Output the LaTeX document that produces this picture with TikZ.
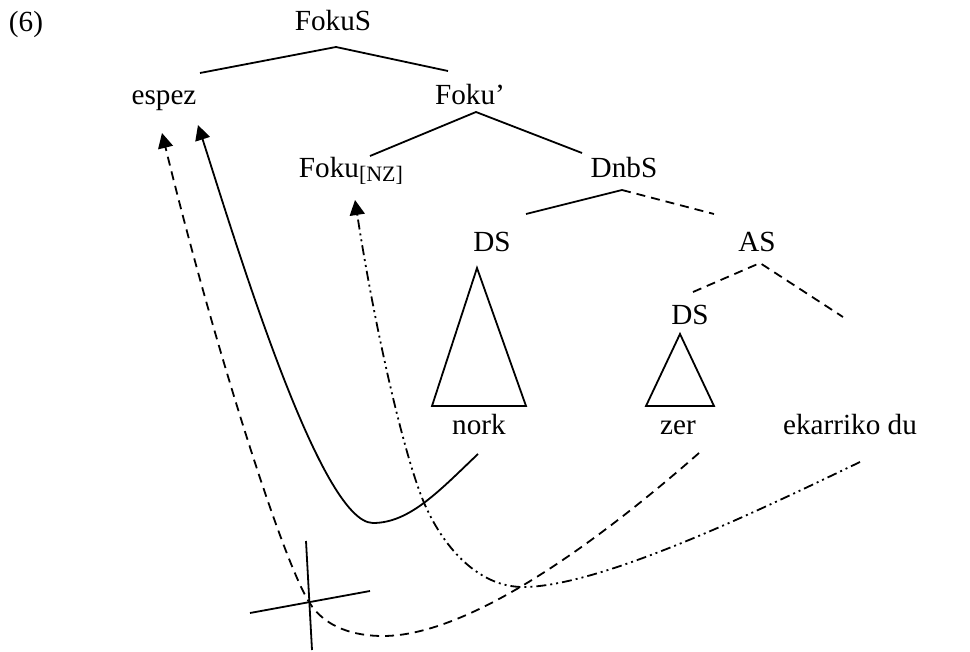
\documentclass[tikz,border=0pt]{standalone}
\usepackage{fontspec}
\setmainfont{Liberation Serif}
\usetikzlibrary{arrows.meta}
\begin{document}
\begin{tikzpicture}[x=0.5pt, y=-0.5pt, line width=0.9pt, >={Triangle[length=7.5pt,width=7.5pt]},
  lbl/.style={anchor=base, inner sep=0pt, font=\fontsize{14.6}{17}\selectfont},
  dashmv/.style={dash pattern=on 4.5pt off 3pt},
  dotmv/.style={dash pattern=on 5pt off 2pt on 1pt off 2pt on 1pt off 2pt}]
  \useasboundingbox (0,0) rectangle (970,652);

  % Labels
  \node[lbl] (ex) at (26,32) {(6)};
  \node[lbl] (fokuS) at (333,31) {FokuS};
  \node[lbl] (espez) at (164,105) {espez};
  \node[lbl] (fokuB) at (470,105) {Foku’};
  \node[lbl] (fokuNZ) at (351,178) {Foku\raisebox{-2pt}{\fontsize{11}{12}\selectfont[NZ]}};
  \node[lbl] (dnbS) at (624,178) {DnbS};
  \node[lbl] (dsA) at (492,252) {DS};
  \node[lbl] (aS) at (757,252) {AS};
  \node[lbl] (dsB) at (690,325) {DS};
  \node[lbl] (nork) at (479,435) {nork};
  \node[lbl] (zer) at (678,435) {zer};
  \node[lbl] (ekar) at (850,435) {ekarriko du};

  % Branches
  \draw (200,73) -- (336,47) -- (448,71);
  \draw (370,156) -- (476,112) -- (582,153);
  \draw (526,214) -- (622,190);
  \draw[dashmv] (622,190) -- (714,214);
  \draw[dashmv] (693,292) -- (760,263) -- (843,317);

  % Triangles
  \draw (477,268) -- (432,406) -- (526,406) -- cycle;
  \draw (680,334) -- (646,406) -- (714,406) -- cycle;

  % Movement
  \coordinate (norkT) at (478,454);
  \coordinate (zerT) at (699,453);
  \coordinate (ekarT) at (860,462);
  \coordinate (espezA) at (198,125);
  \coordinate (espezB) at (162,133);
  \coordinate (fokuA) at (355,200);
  \draw[->] (norkT) .. controls (440,490) and (410,523) .. (373,523)
    .. controls (320,523) and (235,240) .. (espezA);
  \draw[->, dashmv] (zerT) .. controls (600,540) and (470,636) .. (383,636)
    .. controls (355,636) and (325,628) .. (309,602)
    .. controls (280,555) and (210,330) .. (espezB);
  \draw[->, dotmv] (ekarT) .. controls (760,510) and (600,587) .. (523,587)
    .. controls (480,587) and (445,550) .. (425,505)
    .. controls (405,460) and (375,330) .. (fokuA);

  % Cross
  \draw (306,541) -- (312,650);
  \draw (250,613) -- (370,591);
\end{tikzpicture}
\end{document}
